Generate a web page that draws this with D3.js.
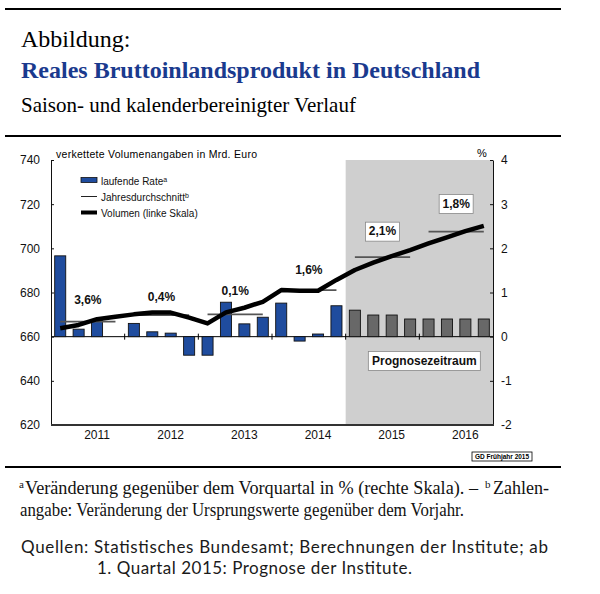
<!DOCTYPE html>
<html><head><meta charset="utf-8">
<script src="https://cdn.jsdelivr.net/npm/d3@7"></script>
<style>body{margin:0;background:#fff}svg{display:block}</style>
</head><body><svg id="c" width="600" height="594"></svg>
<script>
// ---------- data ----------
const years = ["2011","2012","2013","2014","2015","2016"];
const quarters = years.flatMap(y => ["Q1","Q2","Q3","Q4"].map(q => y + q));
// laufende Rate (% ggü. Vorquartal, rechte Skala)
const rate = [1.83, 0.17, 0.36, 0.00,
              0.30, 0.11, 0.08, -0.42,
              -0.42, 0.78, 0.29, 0.44,
              0.76, -0.10, 0.06, 0.70,
              0.60, 0.49, 0.49, 0.40,
              0.40, 0.40, 0.40, 0.40];
// Volumen (Mrd. Euro, linke Skala)
const volume = [663.8, 665.3, 667.9, 669.0,
                670.1, 670.9, 670.9, 668.6,
                666.0, 671.0, 673.1, 675.8,
                681.1, 680.8, 680.8, 685.7,
                690.2, 693.5, 696.5, 699.2,
                702.2, 705.0, 707.8, 710.2];
// Jahresdurchschnitt (linke Skala)
const annualAvg = [666.8, 669.8, 670.1, 681.1, 696.0, 707.6];
const annualGrowth = ["3,6%","0,4%","0,1%","1,6%","2,1%","1,8%"];
const leftTicks = [620, 640, 660, 680, 700, 720, 740];
const rightTicks = [-2, -1, 0, 1, 2, 3, 4];
const forecastStart = "2015Q1";

// ---------- layout ----------
const svg = d3.select("#c");
const L = 51, R = 493, T = 160, B = 425;
const x = d3.scaleBand().domain(quarters).range([L, R]).paddingInner(0.4).paddingOuter(0.2);
const step = x.step();
const cx = q => L + (quarters.indexOf(q) + 0.5) * step;
const yL = d3.scaleLinear().domain([620, 740]).range([B, T]);
const yR = d3.scaleLinear().domain([-2, 4]).range([B, T]);
const sans = "'Liberation Sans', Arial, sans-serif";
const serif = "'Liberation Serif', 'Times New Roman', serif";

// frame lines
[9, 136, 467].forEach(yy => svg.append("line").attr("x1", 5).attr("x2", 561).attr("y1", yy).attr("y2", yy)
  .attr("stroke", "#000").attr("stroke-width", 2));

// headings
svg.append("text").attr("x", 21).attr("y", 47).attr("font-family", serif).attr("font-size", 24)
  .text("Abbildung:");
svg.append("text").attr("x", 21).attr("y", 78).attr("font-family", serif).attr("font-size", 24)
  .attr("font-weight", "bold").attr("fill", "#1a3a8e").text("Reales Bruttoinlandsprodukt in Deutschland");
svg.append("text").attr("x", 21).attr("y", 112).attr("font-family", serif).attr("font-size", 21)
  .text("Saison- und kalenderbereinigter Verlauf");

// forecast shading
const fx = L + quarters.indexOf(forecastStart) * step;
svg.append("rect").attr("x", fx).attr("y", T).attr("width", R - fx).attr("height", B - T).attr("fill", "#cfcfcf");

// zero line
svg.append("line").attr("x1", L).attr("x2", R).attr("y1", yR(0)).attr("y2", yR(0)).attr("stroke", "#000").attr("stroke-width", 1);

// bars
svg.append("g").selectAll("rect").data(quarters).join("rect")
  .attr("x", d => x(d))
  .attr("width", x.bandwidth())
  .attr("y", (d, i) => yR(Math.max(0, rate[i])))
  .attr("height", (d, i) => Math.abs(yR(rate[i]) - yR(0)))
  .attr("fill", (d, i) => i >= quarters.indexOf(forecastStart) ? "#686868" : "#1f4c9e")
  .attr("stroke", "#111").attr("stroke-width", 0.9);

// year tick marks on zero line
years.slice(1).forEach((y, k) => {
  const xx = L + (k + 1) * 4 * step;
  svg.append("line").attr("x1", xx).attr("x2", xx).attr("y1", yR(0) - 3).attr("y2", yR(0) + 3)
    .attr("stroke", "#000").attr("stroke-width", 1);
});

// annual average lines
svg.append("g").selectAll("line").data(years).join("line")
  .attr("x1", (d, i) => cx(quarters[i * 4]))
  .attr("x2", (d, i) => cx(quarters[i * 4 + 3]))
  .attr("y1", (d, i) => yL(annualAvg[i]))
  .attr("y2", (d, i) => yL(annualAvg[i]))
  .attr("stroke", "#555").attr("stroke-width", 1.8);

// volume line
svg.append("path").datum(quarters)
  .attr("d", d3.line().x(d => cx(d)).y((d, i) => yL(volume[i])))
  .attr("fill", "none").attr("stroke", "#000").attr("stroke-width", 4.5)
  .attr("stroke-linejoin", "round");

// axes
const ax = svg.append("g").attr("transform", `translate(${L},0)`)
  .call(d3.axisLeft(yL).tickValues(leftTicks).tickSizeInner(-3).tickSizeOuter(0).tickPadding(11).tickFormat(d => String(d)));
const ar = svg.append("g").attr("transform", `translate(${R},0)`)
  .call(d3.axisRight(yR).tickValues(rightTicks).tickSizeInner(-3).tickSizeOuter(0).tickPadding(8).tickFormat(d => String(d)));
[ax, ar].forEach(g => {
  g.selectAll("text").attr("font-family", sans).attr("font-size", 12).attr("fill", "#111");
  g.select(".domain").attr("stroke", "#111");
  g.selectAll(".tick line").attr("stroke", "#111");
});
svg.append("line").attr("x1", L).attr("x2", R + 1).attr("y1", B).attr("y2", B).attr("stroke", "#333").attr("stroke-width", 2);

// year labels
svg.append("g").selectAll("text").data(years).join("text")
  .attr("x", (d, i) => x(quarters[i * 4 + 2]) + x.bandwidth() / 2)
  .attr("y", B + 14).attr("text-anchor", "middle")
  .attr("font-family", sans).attr("font-size", 12).attr("fill", "#111").text(d => d);

// axis titles
svg.append("text").attr("x", 56).attr("y", 157.5).attr("font-family", sans).attr("font-size", 10.5)
  .attr("textLength", 201).attr("lengthAdjust", "spacing").text("verkettete Volumenangaben  in Mrd. Euro");
svg.append("text").attr("x", 482).attr("y", 157).attr("text-anchor", "middle").attr("font-family", sans)
  .attr("font-size", 11).text("%");

// legend
const lg = svg.append("g").attr("font-family", sans).attr("font-size", 10).attr("fill", "#111");
lg.append("rect").attr("x", 81).attr("y", 177.5).attr("width", 16).attr("height", 5).attr("fill", "#1f4c9e").attr("stroke", "#111").attr("stroke-width", 0.8);
lg.append("line").attr("x1", 81).attr("x2", 97).attr("y1", 196.5).attr("y2", 196.5).attr("stroke", "#222").attr("stroke-width", 1);
lg.append("line").attr("x1", 81).attr("x2", 97).attr("y1", 212.5).attr("y2", 212.5).attr("stroke", "#000").attr("stroke-width", 4);
const t1 = lg.append("text").attr("x", 101).attr("y", 184.5);
t1.append("tspan").text("laufende Rate");
t1.append("tspan").attr("font-size", 7).attr("dy", -3).text("a");
const t2 = lg.append("text").attr("x", 101).attr("y", 200.5);
t2.append("tspan").text("Jahresdurchschnitt");
t2.append("tspan").attr("font-size", 7).attr("dy", -3).text("b");
lg.append("text").attr("x", 101).attr("y", 216.5).text("Volumen  (linke Skala)");

// annual growth labels
const labelLift = [18, 14, 19, 16, 22, 24];
years.forEach((y, i) => {
  const xx = L + (i * 4 + 2) * step;
  const yy = yL(annualAvg[i]) - labelLift[i];
  if (i >= 4) {
    svg.append("rect").attr("x", xx - 17).attr("y", yy - 13).attr("width", 34).attr("height", 19)
      .attr("fill", "#fff").attr("stroke", "#888").attr("stroke-width", 0.8);
  }
  svg.append("text").attr("x", xx).attr("y", yy).attr("text-anchor", "middle")
    .attr("font-family", sans).attr("font-size", 12).attr("font-weight", "bold").attr("fill", "#111")
    .text(annualGrowth[i]);
});

// Prognosezeitraum box
const px = (fx + R) / 2 + 5, py = yR(-0.55);
svg.append("rect").attr("x", px - 56).attr("y", py - 9.5).attr("width", 112).attr("height", 19)
  .attr("fill", "#fff").attr("stroke", "#888").attr("stroke-width", 0.8);
svg.append("text").attr("x", px).attr("y", py + 4.5).attr("text-anchor", "middle").attr("font-family", sans)
  .attr("font-size", 12).attr("font-weight", "bold").attr("fill", "#111").text("Prognosezeitraum");

// GD box
svg.append("rect").attr("x", 472).attr("y", 452).attr("width", 60).attr("height", 9)
  .attr("fill", "#fff").attr("stroke", "#000").attr("stroke-width", 0.8);
svg.append("text").attr("x", 502).attr("y", 459).attr("text-anchor", "middle").attr("font-family", sans)
  .attr("font-size", 6.5).attr("font-weight", "bold").text("GD Frühjahr 2015");

// footnotes
const fn = svg.append("g").attr("font-family", serif).attr("font-size", 18).attr("fill", "#111");
fn.append("text").attr("x", 19).attr("y", 488).attr("font-size", 11).text("a");
fn.append("text").attr("x", 25).attr("y", 494).attr("textLength", 453).attr("lengthAdjust", "spacingAndGlyphs")
  .text("Veränderung gegenüber dem Vorquartal in % (rechte Skala). –");
fn.append("text").attr("x", 485).attr("y", 488).attr("font-size", 11).text("b");
fn.append("text").attr("x", 493).attr("y", 494).attr("textLength", 56).attr("lengthAdjust", "spacingAndGlyphs").text("Zahlen-");
fn.append("text").attr("x", 20).attr("y", 516).attr("textLength", 444).attr("lengthAdjust", "spacingAndGlyphs")
  .text("angabe: Veränderung der Ursprungswerte gegenüber dem Vorjahr.");
const q = svg.append("g").attr("font-family", "Lato, 'Noto Sans', sans-serif")
  .attr("font-size", 17).attr("fill", "#1a1a1a");
q.append("text").attr("x", 21).attr("y", 553).attr("textLength", 527).attr("lengthAdjust", "spacing")
  .text("Quellen:  Statistisches Bundesamt; Berechnungen der Institute; ab");
q.append("text").attr("x", 97).attr("y", 574).attr("textLength", 315).attr("lengthAdjust", "spacing")
  .text("1. Quartal 2015: Prognose der Institute.");
</script></body></html>
